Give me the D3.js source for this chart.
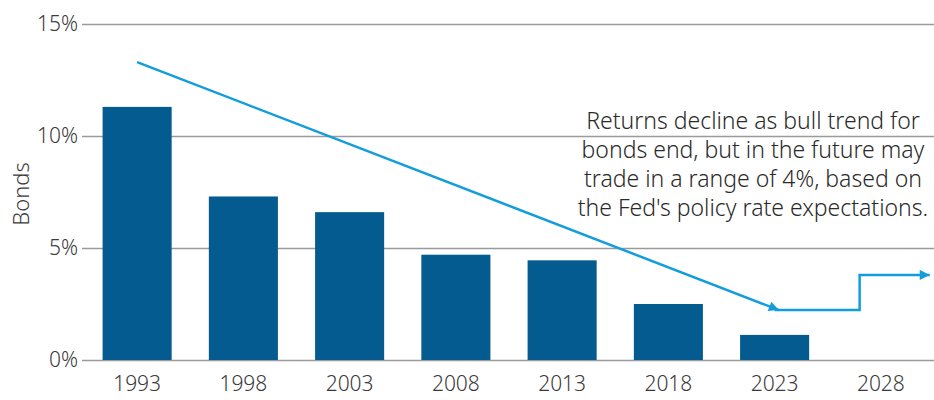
<!DOCTYPE html>
<html>
<head>
<meta charset="utf-8">
<script src="https://cdn.jsdelivr.net/npm/d3@7"></script>
<style>
  body { margin: 0; background: #fff; }
  text { font-family: "Noto Sans", sans-serif; fill: #3a3a3a; }
</style>
</head>
<body>
<div id="chart"></div>
<script>
var svgWidth = 934;
var svgHeight = 400;

// data
var years = ["1993", "1998", "2003", "2008", "2013", "2018", "2023", "2028"];
var returns = [11.3, 7.3, 6.6, 4.7, 4.45, 2.5, 1.12, null];
var yTicks = [0, 5, 10, 15];

// trend arrow (year, %) and the future range step
var trendLine = [[1993, 13.3], [2023.2, 2.23]];
var futureLine = [[2023, 2.23], [2027, 2.23], [2027, 3.8], [2030.3, 3.8]];

var annotation = [
  "Returns decline as bull trend for",
  "bonds end, but in the future may",
  "trade in a range of 4%, based on",
  "the Fed's policy rate expectations."
];

var margin = { top: 24, right: 0, bottom: 40, left: 84 };
var width = svgWidth - margin.left - margin.right;
var height = svgHeight - margin.top - margin.bottom;

var svg = d3.select("#chart")
  .append("svg")
  .attr("width", svgWidth)
  .attr("height", svgHeight);

var chartGroup = svg.append("g")
  .attr("transform", `translate(${margin.left}, ${margin.top})`);

var xBand = d3.scaleBand()
  .domain(years)
  .range([0, width])
  .paddingInner(0.35)
  .paddingOuter(0.175);

var yLinearScale = d3.scaleLinear()
  .domain([0, 15])
  .range([height, 0]);

// numeric year scale lined up with the band centres
var xYear = d3.scaleLinear()
  .domain([1993, 2028])
  .range([xBand("1993") + xBand.bandwidth() / 2, xBand("2028") + xBand.bandwidth() / 2]);

// gridlines + y labels
var leftAxis = d3.axisLeft(yLinearScale)
  .tickValues(yTicks)
  .tickSize(-width)
  .tickPadding(6)
  .tickFormat(d => d + "%");

var yAxisG = chartGroup.append("g").call(leftAxis);
yAxisG.select(".domain").remove();
yAxisG.selectAll(".tick line").attr("stroke", "#9a9a9a").attr("stroke-width", 1.5).attr("x1", -2);
yAxisG.selectAll(".tick text")
  .style("font-size", "21px")
  .style("font-weight", 300)
  .attr("x", -6);

// bars
chartGroup.selectAll("rect.bar")
  .data(years.map((y, i) => ({ year: y, value: returns[i] })).filter(d => d.value != null))
  .enter()
  .append("rect")
  .attr("class", "bar")
  .attr("x", d => xBand(d.year))
  .attr("y", d => yLinearScale(d.value))
  .attr("width", xBand.bandwidth())
  .attr("height", d => height - yLinearScale(d.value))
  .attr("fill", "#035b90");

// x labels
var bottomAxis = d3.axisBottom(xBand).tickSize(0).tickPadding(16);
var xAxisG = chartGroup.append("g")
  .attr("transform", `translate(0, ${height})`)
  .call(bottomAxis);
xAxisG.select(".domain").remove();
xAxisG.selectAll(".tick text")
  .style("font-size", "21px")
  .style("font-weight", 300);

// y axis title
chartGroup.append("text")
  .attr("transform", "rotate(-90)")
  .attr("x", -(194 - margin.top))
  .attr("y", -margin.left + 29)
  .attr("text-anchor", "middle")
  .style("font-size", "22px")
  .style("font-weight", 300)
  .text("Bonds");

// arrow marker
var defs = svg.append("defs");
defs.append("marker")
  .attr("id", "arrow")
  .attr("viewBox", "0 0 10 10")
  .attr("refX", 10)
  .attr("refY", 5)
  .attr("markerWidth", 5.5)
  .attr("markerHeight", 4)
  .attr("markerUnits", "strokeWidth")
  .attr("orient", "auto")
  .append("path")
  .attr("d", "M0,0 L10,5 L0,10 Z")
  .attr("fill", "#139ddc");

var line = d3.line()
  .x(d => xYear(d[0]))
  .y(d => yLinearScale(d[1]));

chartGroup.append("path")
  .datum(trendLine)
  .attr("d", line)
  .attr("fill", "none")
  .attr("stroke", "#139ddc")
  .attr("stroke-width", 2.5)
  .attr("marker-end", "url(#arrow)");

chartGroup.append("path")
  .datum(futureLine)
  .attr("d", line)
  .attr("fill", "none")
  .attr("stroke", "#139ddc")
  .attr("stroke-width", 2.5)
  .attr("marker-end", "url(#arrow)");

// annotation
var note = chartGroup.append("text")
  .attr("text-anchor", "middle")
  .style("font-size", "23px")
  .style("font-weight", 300)
  .style("fill", "#2a2a2a");
note.selectAll("tspan")
  .data(annotation)
  .enter()
  .append("tspan")
  .attr("x", 753 - margin.left)
  .attr("y", (d, i) => 129 - margin.top + i * 29)
  .text(d => d);
</script>
</body>
</html>
